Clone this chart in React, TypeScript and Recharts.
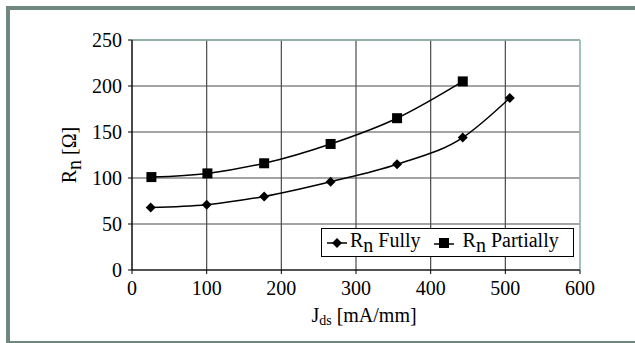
import { LineChart, Line, XAxis, YAxis, CartesianGrid, Label } from "recharts";

const fullyJ = [25, 100, 177, 266, 355, 443, 506];
const fullyR = [68, 71, 80, 96, 115, 144, 187];
const partialJ = [26, 101, 177, 266, 355, 443];
const partialR = [101, 105, 116, 137, 165, 205];
const xTicks = [0, 100, 200, 300, 400, 500, 600];
const yTicks = [0, 50, 100, 150, 200, 250];

const fully = fullyJ.map((j, i) => ({ j, r: fullyR[i] }));
const partial = partialJ.map((j, i) => ({ j, r: partialR[i] }));

const FONT = '"Liberation Serif", "Times New Roman", serif';

function Diamond(props: any) {
  const { cx, cy } = props;
  if (cx == null || cy == null) return null;
  return <path d={`M${cx},${cy - 5}L${cx + 5},${cy}L${cx},${cy + 5}L${cx - 5},${cy}Z`} fill="#000" />;
}

function Square(props: any) {
  const { cx, cy } = props;
  if (cx == null || cy == null) return null;
  return <rect x={cx - 5} y={cy - 5} width={10} height={10} fill="#000" />;
}

function Tick(props: any) {
  const { x, y, payload, textAnchor, vertical } = props;
  return (
    <text
      x={x}
      y={y}
      dy={vertical ? "0.35em" : "0.71em"}
      textAnchor={textAnchor}
      fontSize={20}
      fill="#000"
      style={{ fontFamily: FONT }}
    >
      {payload.value}
    </text>
  );
}

function LegendBox() {
  return (
    <div
      style={{
        position: "absolute",
        left: 321,
        top: 228,
        width: 251,
        height: 27,
        border: "1px solid #000",
        background: "#fff",
        fontFamily: FONT,
        fontSize: 20,
        color: "#000",
        display: "flex",
        alignItems: "center",
        whiteSpace: "nowrap",
        lineHeight: "27px",
      }}
    >
      <svg width={20} height={14} style={{ marginLeft: 5 }}>
        <line x1={0} y1={7} x2={20} y2={7} stroke="#000" strokeWidth={1.5} />
        <path d="M10,2L15,7L10,12L5,7Z" fill="#000" />
      </svg>
      <span style={{ marginLeft: 3 }}>
        R<sub style={{ fontSize: 20, verticalAlign: "-5px" }}>n</sub> Fully
      </span>
      <svg width={20} height={14} style={{ marginLeft: 13 }}>
        <line x1={0} y1={8} x2={20} y2={8} stroke="#000" strokeWidth={1.5} />
        <rect x={5} y={2} width={10} height={10} fill="#000" />
      </svg>
      <span style={{ marginLeft: 9 }}>
        R<sub style={{ fontSize: 20, verticalAlign: "-5px" }}>n</sub> Partially
      </span>
    </div>
  );
}

export default function App() {
  return (
    <div style={{ position: "absolute", left: 0, top: 0, width: 635, height: 343, overflow: "hidden", background: "#fff", fontFamily: FONT }}>
      <div
        style={{
          position: "absolute",
          left: 6,
          top: 6,
          width: 640,
          height: 331,
          border: "4px solid #6f8780",
        }}
      />
      <div style={{ position: "absolute", left: 0, top: 0 }}>
        <LineChart width={635} height={343} margin={{ top: 40, right: 55, bottom: 33, left: 72 }} style={{ fontFamily: FONT }}>
          <CartesianGrid stroke="#4a4a4a" strokeWidth={1.2} horizontalValues={yTicks} verticalValues={xTicks} />
          <XAxis
            type="number"
            dataKey="j"
            domain={[0, 600]}
            ticks={xTicks}
            height={40}
            tickSize={4}
            tickMargin={7}
            stroke="#000"
            tick={<Tick />}
          >
            <Label
              content={() => (
                <text x={364} y={322} textAnchor="middle" style={{ fontFamily: FONT }} fontSize={20} fill="#000">
                  J<tspan fontSize={14} dy={3}>ds</tspan>
                  <tspan dy={-3}> [mA/mm]</tspan>
                </text>
              )}
            />
          </XAxis>
          <YAxis
            type="number"
            dataKey="r"
            domain={[0, 250]}
            ticks={yTicks}
            width={60}
            tickSize={4}
            tickMargin={6}
            stroke="#000"
            tick={<Tick vertical />}
          >
            <Label
              content={() => (
                <text
                  x={76}
                  y={155}
                  textAnchor="middle"
                  transform="rotate(-90, 76, 155)"
                  style={{ fontFamily: FONT }}
                  fontSize={20}
                  fill="#000"
                >
                  R<tspan dy={5}>n</tspan>
                  <tspan dy={-5}> [Ω]</tspan>
                </text>
              )}
            />
          </YAxis>
          <Line
            data={fully}
            dataKey="r"
            type="monotone"
            stroke="#000"
            strokeWidth={1.5}
            dot={<Diamond />}
            activeDot={false}
            isAnimationActive={false}
          />
          <Line
            data={partial}
            dataKey="r"
            type="monotone"
            stroke="#000"
            strokeWidth={1.5}
            dot={<Square />}
            activeDot={false}
            isAnimationActive={false}
          />
          <line x1={132} y1={40} x2={580} y2={40} stroke="#8fb3a8" strokeWidth={1.5} />
          <line x1={580} y1={40} x2={580} y2={270} stroke="#a3d3c3" strokeWidth={1.5} />
        </LineChart>
      </div>
      <LegendBox />
    </div>
  );
}
